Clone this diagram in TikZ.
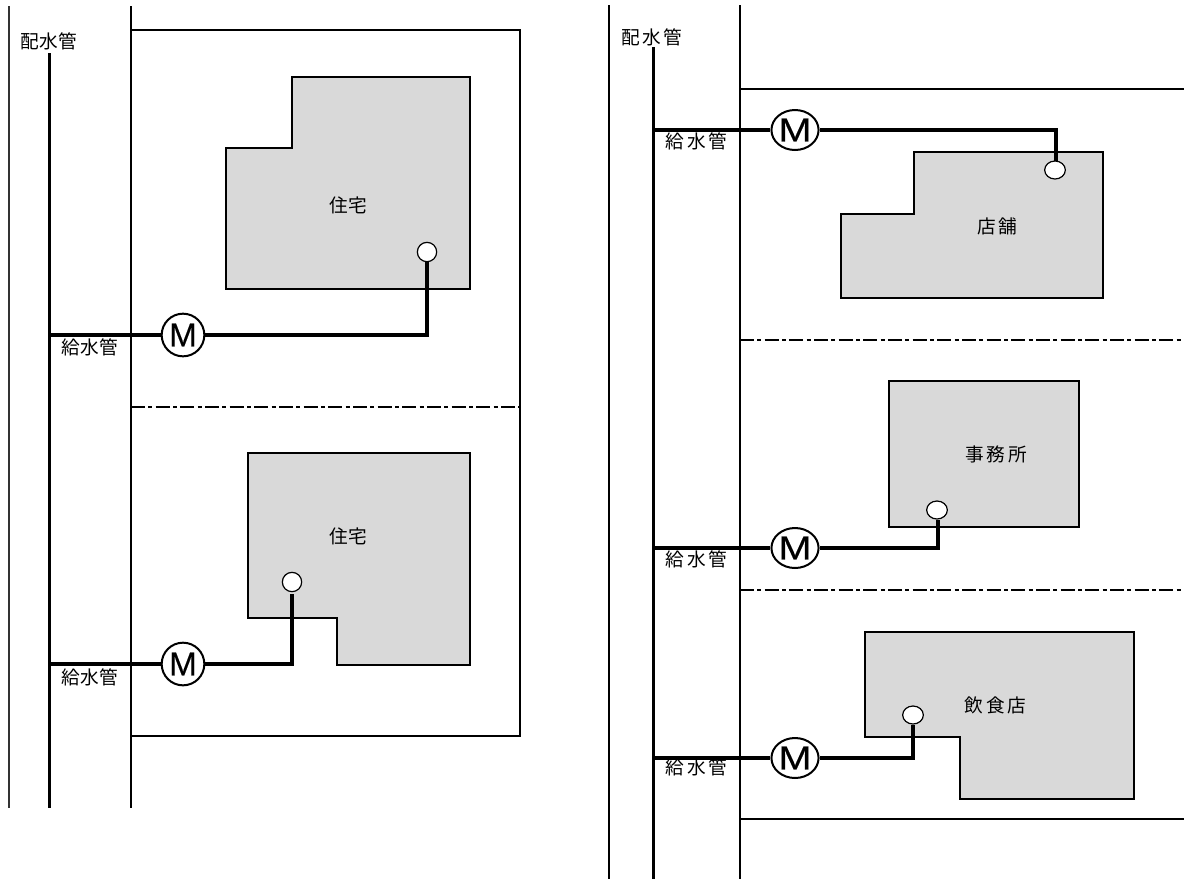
\documentclass[tikz,border=0pt]{standalone}
\usepackage{fontspec}
\setmainfont{Liberation Sans}
\newfontfamily\cjk{Noto Sans CJK JP}
\newfontfamily\mfont[FakeBold=0.3]{Liberation Sans}
\usetikzlibrary{shapes.geometric}
\tikzset{
  x=0.75pt,y=-0.75pt,
  thin wall/.style={draw=black!80,line width=1.7pt},
  pipe/.style={draw=black,line width=2.6pt},
  lot/.style={draw=black,line width=1.6pt},
  parting/.style={draw=black,line width=1.4pt,dash pattern=on 10.5pt off 2.5pt on 3pt off 2.5pt},
  house/.style={draw=black,fill=black!15,line width=1.6pt,line join=miter},
  tap/.style={circle,draw=black,fill=white,line width=0.9pt,inner sep=0pt,minimum width=14.5pt},
  tapr/.style={ellipse,draw=black,fill=white,line width=0.9pt,inner sep=0pt,minimum width=15.5pt,minimum height=13.5pt},
  meter/.style={circle,draw=black,fill=white,line width=1.5pt,inner sep=0pt,minimum size=32pt,font=\mfont\fontsize{25}{25}\selectfont},
  meterr/.style={ellipse,draw=black,fill=white,line width=1.5pt,inner sep=0pt,minimum width=35pt,minimum height=30pt,font=\mfont\fontsize{25}{25}\selectfont},
  lab/.style={font=\cjk\fontsize{14}{14}\selectfont,inner sep=0pt},
}
\newcommand{\gapa}{\hspace{0.4pt}}
\newcommand{\gapb}{\hspace{2pt}}
\begin{document}
\begin{tikzpicture}
\useasboundingbox (0,0) rectangle (1184,879);
% left sheet
\coordinate (ll1) at (9,6); \coordinate (ll2) at (9,808);
\coordinate (lm1) at (49.5,53); \coordinate (lm2) at (49.5,808);
\coordinate (lb1) at (131,6); \coordinate (lb2) at (131,808);
\draw[thin wall] (ll1) -- (ll2);
\draw[pipe] (lm1) -- (lm2);
\draw[lot] (lb1) -- (lb2);
\coordinate (lota) at (130,30); \coordinate (lotb) at (520,30);
\coordinate (lotc) at (520,736); \coordinate (lotd) at (131,736);
\draw[lot] (lota) -- (lotb) -- (lotc) -- (lotd);
\coordinate (lda) at (131,407); \coordinate (ldb) at (520,407);
\draw[parting] (lda) -- (ldb);
\draw[house] (292,77) -- (470,77) -- (470,289) -- (226,289) -- (226,148) -- (292,148) -- cycle;
\draw[house] (248,453) -- (470,453) -- (470,665) -- (337,665) -- (337,618) -- (248,618) -- cycle;
% right sheet
\coordinate (rl1) at (609,5); \coordinate (rl2) at (609,879);
\coordinate (rm1) at (653.5,47); \coordinate (rm2) at (653.5,879);
\coordinate (rb1) at (740,5); \coordinate (rb2) at (740,879);
\draw[lot] (rl1) -- (rl2);
\draw[pipe] (rm1) -- (rm2);
\draw[lot] (rb1) -- (rb2);
\coordinate (rta) at (740,89); \coordinate (rtb) at (1184,89);
\coordinate (rua) at (740,819); \coordinate (rub) at (1184,819);
\draw[lot] (rta) -- (rtb);
\draw[lot] (rua) -- (rub);
\coordinate (rda) at (740,340); \coordinate (rdb) at (1184,340);
\coordinate (rea) at (740,590); \coordinate (reb) at (1184,590);
\draw[parting] (rda) -- (rdb);
\draw[parting] (rea) -- (reb);
\draw[house] (914,152) -- (1103,152) -- (1103,298) -- (841,298) -- (841,214) -- (914,214) -- cycle;
\draw[house] (889,381) -- (1079,381) -- (1079,527) -- (889,527) -- cycle;
\draw[house] (865,632) -- (1134,632) -- (1134,799) -- (960,799) -- (960,737) -- (865,737) -- cycle;
% meters and taps
\node[meter] (m1) at (183,335) {M};
\node[meter] (m2) at (183,664) {M};
\node[meterr] (m3) at (795,130) {\scalebox{1.2}[1]{M}};
\node[meterr] (m4) at (795,548) {\scalebox{1.2}[1]{M}};
\node[meterr] (m5) at (795,758) {\scalebox{1.2}[1]{M}};
\node[tap] (t1) at (427,252) {};
\node[tap] (t2) at (292,582) {};
\node[tapr] (t3) at (1055,170) {};
\node[tapr] (t4) at (937,510) {};
\node[tapr] (t5) at (913,715) {};
% service pipes
\coordinate (j1) at (49.5,335); \coordinate (j2) at (49.5,664);
\coordinate (j3) at (653.5,130); \coordinate (j4) at (653.5,548); \coordinate (j5) at (653.5,758);
\coordinate (c1) at (427,335); \coordinate (c2) at (292,664); \coordinate (c2b) at (292,594);
\coordinate (c3) at (1056,130); \coordinate (c3b) at (1056,160.5);
\coordinate (c4) at (938,548); \coordinate (c4b) at (938,520);
\coordinate (c5) at (913,758); \coordinate (c5b) at (913,725);
\draw[pipe] (j1) -- (m1);
\draw[pipe] (j2) -- (m2);
\draw[pipe] (j3) -- (m3);
\draw[pipe] (j4) -- (m4);
\draw[pipe] (j5) -- (m5);
\draw[pipe] (m1) -- (c1) -- (t1);
\draw[pipe] (m2) -- (c2) -- (c2b);
\draw[pipe] (m3) -- (c3) -- (c3b);
\draw[pipe] (m4) -- (c4) -- (c4b);
\draw[pipe] (m5) -- (c5) -- (c5b);
% labels
\node[lab] (n1) at (49,41.5) {配\gapa 水\gapa 管};
\node[lab] (n2) at (652,37) {配\gapb 水\gapb 管};
\node[lab] (n3) at (90,347) {給\gapa 水\gapa 管};
\node[lab] (n4) at (90,677) {給\gapa 水\gapa 管};
\node[lab] (n5) at (696.5,141.5) {給\gapb 水\gapb 管};
\node[lab] (n6) at (696.5,559) {給\gapb 水\gapb 管};
\node[lab] (n7) at (696.5,767) {給\gapb 水\gapb 管};
\node[lab] (b1) at (348,205) {住\gapa 宅};
\node[lab] (b2) at (348,536) {住\gapa 宅};
\node[lab] (b3) at (997,226) {店\gapb 舗};
\node[lab] (b4) at (996,454) {事\gapb 務\gapb 所};
\node[lab] (b5) at (995.5,705) {飲\gapb 食\gapb 店};
\end{tikzpicture}
\end{document}
